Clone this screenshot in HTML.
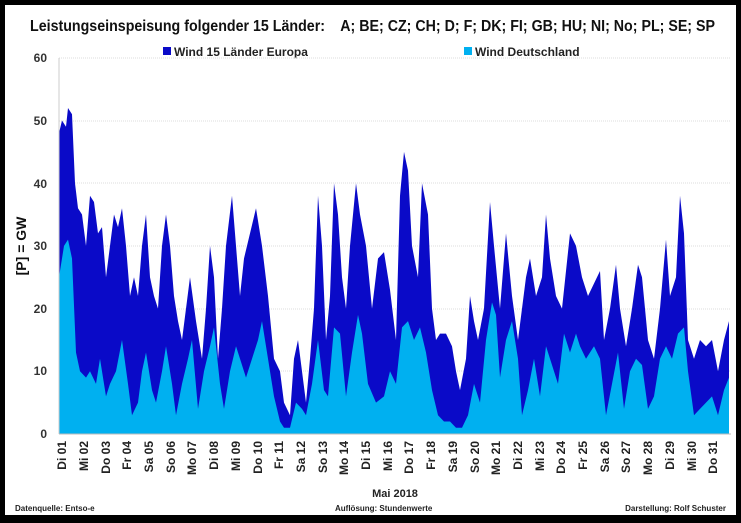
<!DOCTYPE html>
<html><head><meta charset="utf-8"><style>
body{margin:0;background:#000;}
svg{display:block;font-family:"Liberation Sans",sans-serif;}
</style></head><body>
<svg width="741" height="523" viewBox="0 0 741 523">
<rect x="0" y="0" width="741" height="523" fill="#000"/>
<rect x="5" y="5" width="731" height="510" fill="#fff"/>
<text x="30" y="31" font-size="15.5" font-weight="bold" fill="#111" textLength="685" lengthAdjust="spacingAndGlyphs" xml:space="preserve">Leistungseinspeisung folgender 15 Länder:    A; BE; CZ; CH; D; F; DK; FI; GB; HU; NI; No; PL; SE; SP</text>
<rect x="163" y="47" width="8" height="8" fill="#0a0ac8"/>
<text x="174" y="56" font-size="12" font-weight="bold" fill="#222">Wind 15 Länder Europa</text>
<rect x="464" y="47" width="8" height="8" fill="#00b0f0"/>
<text x="475" y="56" font-size="12" font-weight="bold" fill="#222">Wind Deutschland</text>
<g stroke="#ddd" stroke-width="1" stroke-dasharray="1,1">
<line x1="59" x2="731" y1="58" y2="58"/><line x1="59" x2="731" y1="121" y2="121"/><line x1="59" x2="731" y1="183" y2="183"/><line x1="59" x2="731" y1="246" y2="246"/><line x1="59" x2="731" y1="309" y2="309"/><line x1="59" x2="731" y1="371" y2="371"/>
</g>
<g font-size="12" font-weight="bold" fill="#333" text-anchor="end">
<text x="47" y="62">60</text><text x="47" y="125">50</text><text x="47" y="188">40</text><text x="47" y="250">30</text><text x="47" y="313">20</text><text x="47" y="375">10</text><text x="47" y="438">0</text>
</g>
<text transform="translate(26,246) rotate(-90)" font-size="14" font-weight="bold" text-anchor="middle" fill="#111">[P]  = GW</text>
<g transform="translate(0,434) scale(1,-6.27)">
<polygon fill="#0a0ac8" points="59,0 59,48 62,50 66,49 68,52 72,51 75,40 78,36 82,35 86,30 90,38 94,37 98,32 102,33 106,25 110,30 114,35 118,33 122,36 126,30 130,22 134,25 138,22 142,30 146,35 150,25 154,22 158,20 162,30 166,35 170,30 174,22 178,18 182,15 186,20 190,25 196,18 202,12 206,20 210,30 214,25 218,12 222,20 226,30 232,38 236,30 240,22 244,28 250,32 256,36 262,30 268,22 274,12 280,10 284,5 290,3 294,12 298,15 302,10 306,5 310,12 314,20 318,38 322,30 326,15 330,22 334,40 338,35 342,25 346,20 350,30 356,40 360,35 366,30 372,20 378,28 384,29 390,23 396,15 400,38 404,45 408,42 412,30 418,25 422,40 428,35 432,20 436,15 440,16 446,16 452,14 456,10 460,7 466,12 470,22 474,18 478,15 484,20 490,37 494,30 500,20 506,32 512,22 518,15 522,20 526,25 530,28 536,22 542,25 546,35 550,28 556,22 562,20 570,32 576,30 582,25 588,22 594,24 600,26 604,15 610,20 616,27 620,20 626,14 632,20 638,27 642,25 648,15 654,12 660,20 666,31 670,22 676,25 680,38 684,32 688,15 694,12 700,15 706,14 712,15 718,10 724,15 729,18 729,0"/>
<polygon fill="#00b0f0" points="59,0 59,25 64,30 68,31 72,28 76,13 80,10 86,9 90,10 96,8 100,12 106,6 110,8 116,10 122,15 128,8 132,3 138,5 142,10 146,13 152,7 156,5 162,10 166,14 172,8 176,3 182,8 188,12 192,15 198,4 204,10 210,14 214,17 220,8 224,4 230,10 236,14 240,12 246,9 252,12 258,15 262,18 268,12 274,6 280,2 284,1 290,1 296,5 302,4 306,3 312,8 318,15 324,7 328,6 334,17 340,16 346,6 352,13 358,19 362,16 368,8 376,5 384,6 390,10 396,8 402,17 408,18 414,15 420,17 426,13 432,7 438,3 444,2 450,2 456,1 462,1 468,3 474,8 480,5 486,15 492,21 496,19 500,9 506,15 512,18 518,12 522,3 528,7 534,12 540,6 546,14 552,11 558,8 564,16 570,13 576,16 580,14 586,12 594,14 600,12 606,3 612,8 618,13 624,4 630,10 636,12 642,11 648,4 654,6 660,12 666,14 672,12 678,16 684,17 688,10 694,3 700,4 706,5 712,6 718,3 724,7 729,9 729,0"/>
</g>
<line x1="59" x2="59" y1="58" y2="434" stroke="#ccc"/>
<line x1="59" x2="731" y1="434" y2="434" stroke="#bbb"/>
<text x="395" y="497" font-size="11" font-weight="bold" text-anchor="middle" fill="#222">Mai 2018</text>
<g font-size="8" font-weight="bold" fill="#222">
<text x="15" y="511">Datenquelle: Entso-e</text>
<text x="335" y="511">Auflösung:  Stundenwerte</text>
<text x="726" y="511" text-anchor="end">Darstellung: Rolf Schuster</text>
</g>
<g font-size="12" font-weight="bold" fill="#222" text-anchor="end">
<text transform="translate(66,441) rotate(-90)">Di 01</text>
<text transform="translate(88,441) rotate(-90)">Mi 02</text>
<text transform="translate(110,441) rotate(-90)">Do 03</text>
<text transform="translate(131,441) rotate(-90)">Fr 04</text>
<text transform="translate(153,441) rotate(-90)">Sa 05</text>
<text transform="translate(175,441) rotate(-90)">So 06</text>
<text transform="translate(196,441) rotate(-90)">Mo 07</text>
<text transform="translate(218,441) rotate(-90)">Di 08</text>
<text transform="translate(240,441) rotate(-90)">Mi 09</text>
<text transform="translate(262,441) rotate(-90)">Do 10</text>
<text transform="translate(283,441) rotate(-90)">Fr 11</text>
<text transform="translate(305,441) rotate(-90)">Sa 12</text>
<text transform="translate(327,441) rotate(-90)">So 13</text>
<text transform="translate(348,441) rotate(-90)">Mo 14</text>
<text transform="translate(370,441) rotate(-90)">Di 15</text>
<text transform="translate(392,441) rotate(-90)">Mi 16</text>
<text transform="translate(413,441) rotate(-90)">Do 17</text>
<text transform="translate(435,441) rotate(-90)">Fr 18</text>
<text transform="translate(457,441) rotate(-90)">Sa 19</text>
<text transform="translate(479,441) rotate(-90)">So 20</text>
<text transform="translate(500,441) rotate(-90)">Mo 21</text>
<text transform="translate(522,441) rotate(-90)">Di 22</text>
<text transform="translate(544,441) rotate(-90)">Mi 23</text>
<text transform="translate(565,441) rotate(-90)">Do 24</text>
<text transform="translate(587,441) rotate(-90)">Fr 25</text>
<text transform="translate(609,441) rotate(-90)">Sa 26</text>
<text transform="translate(630,441) rotate(-90)">So 27</text>
<text transform="translate(652,441) rotate(-90)">Mo 28</text>
<text transform="translate(674,441) rotate(-90)">Di 29</text>
<text transform="translate(696,441) rotate(-90)">Mi 30</text>
<text transform="translate(717,441) rotate(-90)">Do 31</text>
</g>
</svg>
</body></html>
